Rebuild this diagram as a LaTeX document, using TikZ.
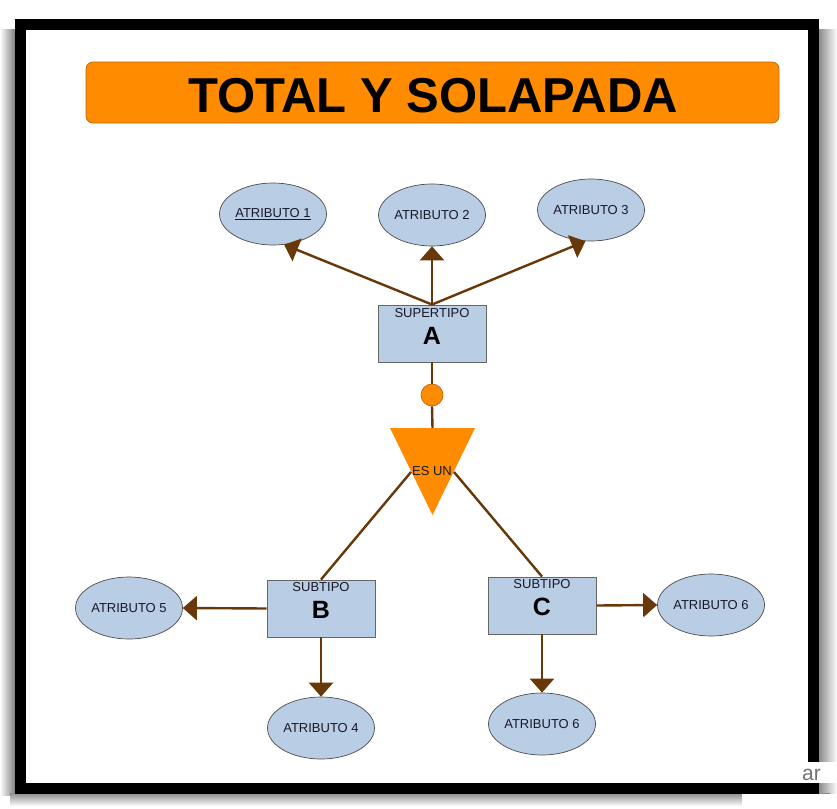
\documentclass[tikz,border=0pt]{standalone}
\usepackage{fontspec}
\setmainfont{Liberation Sans}
\usetikzlibrary{shapes.geometric,arrows.meta}
\definecolor{attrblue}{RGB}{185,205,229}
\definecolor{orangefill}{RGB}{255,140,0}
\definecolor{orangeedge}{RGB}{190,100,10}
\definecolor{brownline}{RGB}{104,56,8}
\definecolor{textcol}{RGB}{25,25,40}
\newcommand{\smallfnt}{\fontsize{13}{15}\selectfont}
\newcommand{\bigfnt}{\fontsize{25}{28}\selectfont\bfseries}
\newcommand{\titlefnt}{\fontsize{49}{54}\selectfont\bfseries}
\tikzset{
  attr/.style={ellipse, draw=black!70, fill=attrblue, line width=0.7pt,
    minimum width=107pt, minimum height=62pt, inner sep=0pt, font=\smallfnt, text=textcol},
  entbox/.style={rectangle, draw=black!60, fill=attrblue, line width=0.9pt,
    minimum width=108pt, minimum height=57pt, inner sep=0pt},
  smalltxt/.style={font=\smallfnt, text=textcol, inner sep=0pt},
  bigtxt/.style={font=\bigfnt, text=black, inner sep=0pt},
  arr/.style={draw=brownline, line width=2.4pt, -{Triangle[length=14pt,width=24pt]}},
  link/.style={draw=brownline, line width=2.4pt},
}
\begin{document}
\begin{tikzpicture}[x=1pt,y=-1pt]
\useasboundingbox (0,0) rectangle (837,808);
% shadows
\shade[left color=white, right color=black!50] (0,30) rectangle (15,795);
\shade[left color=black!45, right color=white] (819,30) rectangle (837,795);
\shade[top color=black!45, bottom color=white] (10,793) rectangle (830,806);
% frame
\draw[line width=11pt, fill=white] (20.5,24.5) rectangle (813,788);
% patches bottom right
\fill[white] (803,762) rectangle (837,783);
\fill[white] (742,794) rectangle (837,808);
\begin{scope}
\clip (802,762) rectangle (823,783);
\node[anchor=west, inner sep=0pt, text=black!55, font=\fontsize{21}{24}\selectfont] (frag) at (802,775) {ar};
\end{scope}
% title
\node[rectangle, rounded corners=7pt, draw=orangeedge, fill=orangefill, line width=0.7pt,
  minimum width=693pt, minimum height=61pt] (titlebox) at (432.5,92.5) {};
\node[font=\titlefnt, inner sep=0pt] (title) at (433,96) {TOTAL Y SOLAPADA};
% attributes
\node[attr] (a1) at (273,214) {\underline{ATRIBUTO 1}};
\node[attr] (a2) at (432,215) {ATRIBUTO 2};
\node[attr] (a3) at (591,210) {ATRIBUTO 3};
\node[attr] (a5) at (129,608) {ATRIBUTO 5};
\node[attr] (a4) at (321,728) {ATRIBUTO 4};
\node[attr] (a6) at (711,605) {ATRIBUTO 6};
\node[attr] (a7) at (542,724) {ATRIBUTO 6};
% entities
\node[entbox] (A) at (432,333.5) {};
\node[smalltxt] (Alab) at (432,313) {SUPERTIPO};
\node[bigtxt] (Aname) at (432,336) {A};
\node[entbox] (B) at (321,608.5) {};
\node[smalltxt] (Blab) at (321,587) {SUBTIPO};
\node[bigtxt] (Bname) at (321,610) {B};
\node[entbox] (C) at (542,605.5) {};
\node[smalltxt] (Clab) at (542,584) {SUBTIPO};
\node[bigtxt] (Cname) at (542,607) {C};
% circle and triangle
\node[circle, draw=orangeedge, fill=orangefill, line width=0.7pt, minimum size=22pt, inner sep=0pt] (dot) at (432,395) {};
\coordinate (tA) at (390,428);
\coordinate (tB) at (475,428);
\coordinate (tApex) at (432.5,515);
\coordinate (tTop) at (432.5,428);
\coordinate (tL) at (411,472);
\coordinate (tR) at (454,472);
\fill[orangefill] (tA) -- (tB) -- (tApex) -- cycle;
\node[smalltxt] (isa) at (432,471) {ES UN};
% connectors
\draw[arr] (A.north) -- (a1.-70);
\draw[arr] (A.north) -- (a2.south);
\draw[arr] (A.north) -- (a3.-100);
\draw[link] (A.south) -- (dot.north);
\draw[link] (dot.south) -- (tTop);
\draw[link] (tL) -- (B.north);
\draw[link] (tR) -- (C.north);
\draw[arr] (B.west) -- (a5.east);
\draw[arr] (B.south) -- (a4.north);
\draw[arr] (C.east) -- (a6.west);
\draw[arr] (C.south) -- (a7.north);
\end{tikzpicture}
\end{document}
